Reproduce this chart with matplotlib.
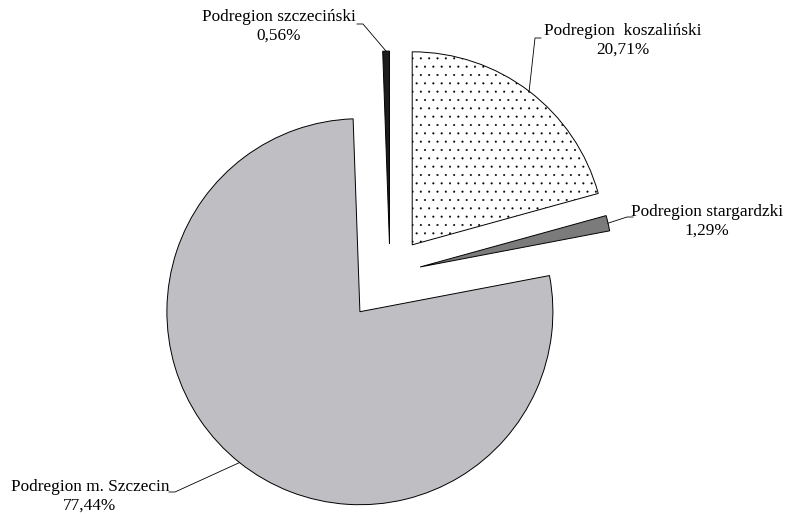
import numpy as np
import matplotlib.pyplot as plt

# shares of each subregion (%), drawn clockwise from 12 o'clock
names = ['Podregion  koszaliński', 'Podregion stargardzki',
         'Podregion m. Szczecin', 'Podregion szczeciński']
values = [20.71, 1.29, 77.44, 0.56]
pct_labels = ['20,71%', '1,29%', '77,44%', '0,56%']

colors = ['white', '#7b7b7b', '#bfbfc3', '#1c1c1c']
hatches = ['..', None, None, None]
explode_frac = [0.19, 0.16, 0.25, 0.155]

plt.rcParams['font.family'] = ['Liberation Serif', 'DejaVu Serif']
plt.rcParams['hatch.color'] = '#a8a8a8'
plt.rcParams['hatch.linewidth'] = 0.25

R = 193
fig = plt.figure(figsize=(7.87, 5.14), dpi=100)
ax = fig.add_axes([0, 0, 1, 1])

wedges, _ = ax.pie(values, explode=[e * R for e in explode_frac], colors=colors,
                   startangle=90, counterclock=False, radius=R, center=(390, 240),
                   wedgeprops=dict(edgecolor='black', linewidth=0.7), frame=True)
ax.set_xlim(0, 787)
ax.set_ylim(0, 514)
ax.set_aspect('equal')
ax.axis('off')
for w, h in zip(wedges, hatches):
    if h:
        w.set_hatch(h)

fs = 12.4
# text (top-centre) position, knee of the leader line, side of the text
text_pos = [(623, 491), (707, 310), (90, 35), (279, 505)]
knee = [(535, 476), (627, 297), (175, 22), (363, 490)]
text_side = [1, 1, -1, -1]

for i, w in enumerate(wedges):
    mid = np.deg2rad((w.theta1 + w.theta2) / 2)
    cx, cy = w.center
    px, py = cx + w.r * np.cos(mid), cy + w.r * np.sin(mid)
    kx, ky = knee[i]
    tx, ty = text_pos[i]
    ax.text(tx, ty, names[i] + '\n' + pct_labels[i], fontsize=fs,
            ha='center', va='top', linespacing=1.2)
    ax.plot([kx + 6 * text_side[i], kx, px], [ky, ky, py], color='black', lw=0.6)

fig.savefig('out.png', dpi=100)
